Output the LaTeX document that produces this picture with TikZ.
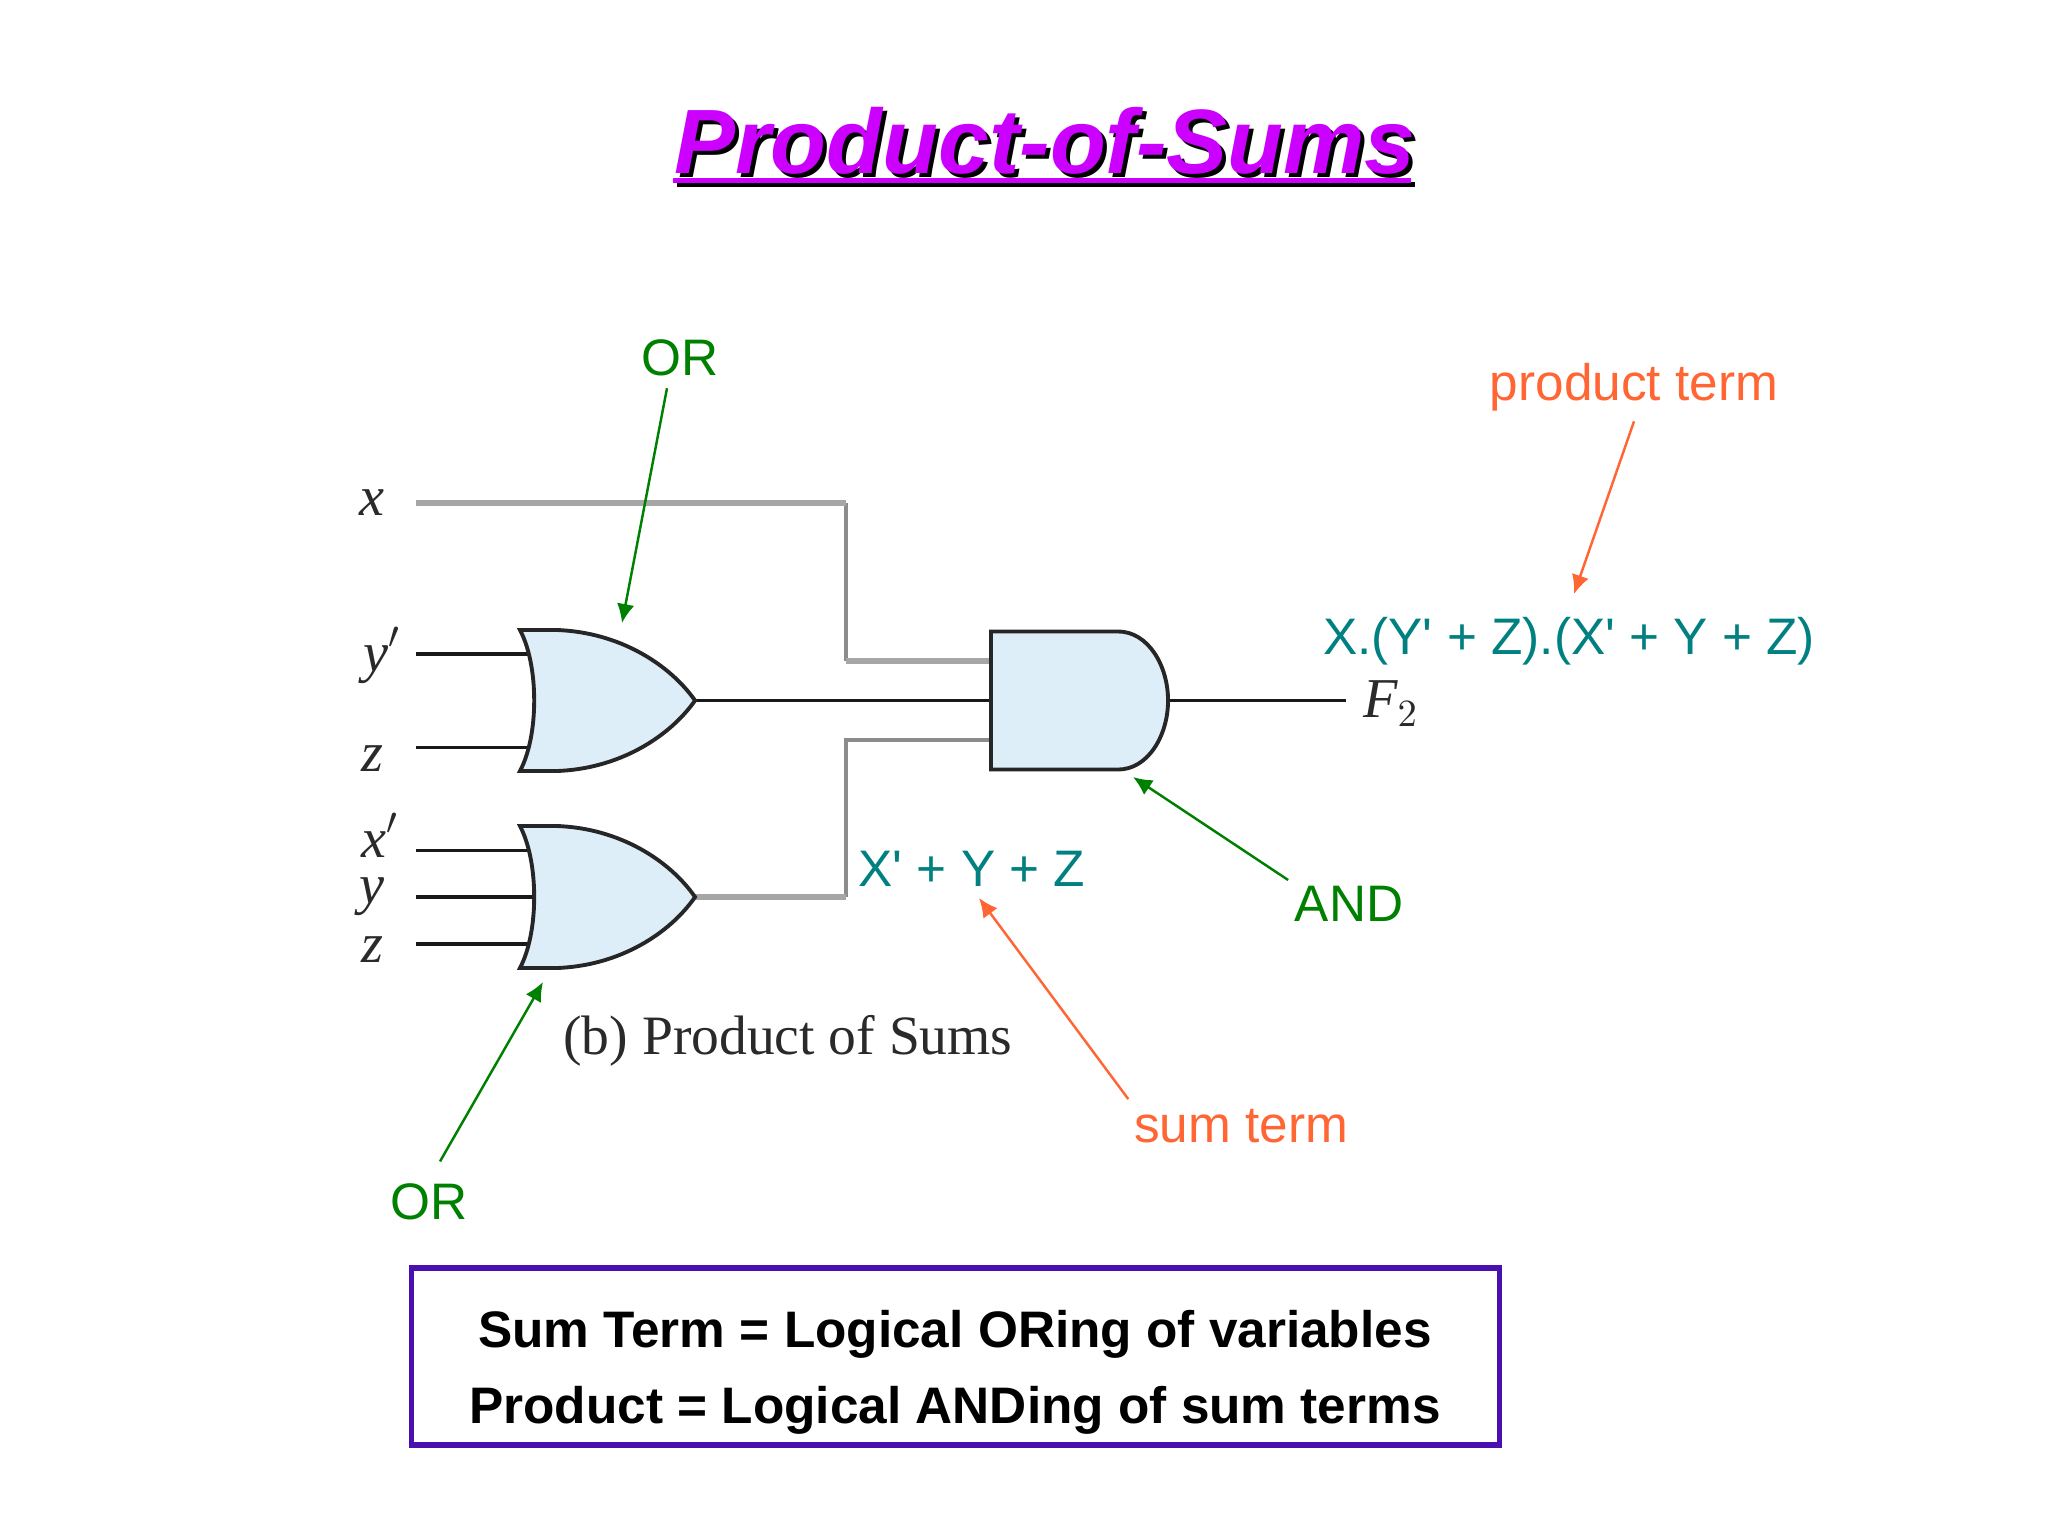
\documentclass[tikz,border=0pt]{standalone}
\usepackage{fontspec}
\setmainfont{Liberation Serif}
\setsansfont{Liberation Sans}[Ligatures=TeXOff]
\usetikzlibrary{calc,arrows.meta}
\definecolor{titlepurple}{HTML}{CC00FF}
\definecolor{gatefill}{HTML}{DDEEF9}
\definecolor{tagteal}{HTML}{008080}
\definecolor{taggreen}{HTML}{008000}
\definecolor{tagorange}{HTML}{FF6633}
\definecolor{boxviolet}{HTML}{4A0FB0}
\definecolor{inkgrey}{HTML}{2A2A2A}
\tikzset{
    gatebox/.style = {rectangle, inner sep=0pt, outer sep=0pt},
    gate/.style = {draw=black!85, line width=1.1pt, fill=gatefill, line join=miter},
    wire/.style = {draw=black!90, line width=0.9pt},
    greywire/.style = {draw=black!35, line width=1.7pt},
    thingrey/.style = {draw=black!45, line width=1.1pt},
    signal/.style = {anchor=base, inner sep=0pt, text=inkgrey, font=\itshape\fontsize{16}{18}\selectfont},
    term/.style = {anchor=base, inner sep=0pt, text=tagteal, font=\sffamily\fontsize{14.6}{16}\selectfont},
    gatetag/.style = {anchor=base, inner sep=0pt, text=taggreen, font=\sffamily\fontsize{14.6}{16}\selectfont},
    termtag/.style = {anchor=base, inner sep=0pt, text=tagorange, font=\sffamily\fontsize{14.6}{16}\selectfont},
    greenarrow/.style = {draw=taggreen, line width=0.7pt, -{Latex[length=5.4pt,width=5pt]}},
    orangearrow/.style = {draw=tagorange, line width=0.7pt, -{Latex[length=5.4pt,width=5pt]}},
    headline/.style = {anchor=base, inner sep=0pt, font=\sffamily\bfseries\itshape\fontsize{26}{30}\selectfont},
    notebox/.style = {draw=boxviolet, line width=1.5pt, minimum width=10.87cm, minimum height=1.77cm, inner sep=0pt},
    noteline/.style = {anchor=base, inner sep=0pt, font=\sffamily\bfseries\fontsize{14.6}{16}\selectfont}
}
\newcommand{\orshape}[1]{
    \draw [gate] ($(#1.north west)+(-14,0)$) -- ++(36,0)
        .. controls ($(#1.north west)+(86,2)$) and ($(#1.north east)+(-25,35)$) .. (#1.east)
        .. controls ($(#1.south east)+(-25,-35)$) and ($(#1.south west)+(86,-2)$) .. ($(#1.south west)+(22,0)$)
        -- ($(#1.south west)+(-14,0)$)
        .. controls ($(#1.west)+(5,35)$) and ($(#1.west)+(5,-35)$) .. ($(#1.north west)+(-14,0)$) -- cycle;
}
\begin{document}
\begin{tikzpicture}[x=0.01cm,y=-0.01cm]
    \useasboundingbox (0,0) rectangle (2048,1536);
    \node [headline, black] (headshadow) at (1049,177) {Product-of-Sums};
    \node [headline, titlepurple] (head) at (1045,173) {Product-of-Sums};
    \fill [black] (677,182) rectangle (1415,187);
    \fill [titlepurple] (673,178) rectangle (1411,182.5);

    \node [gatebox, minimum width=1.61cm, minimum height=1.41cm] (ortop) at (614.5,700.5) {};
    \node [gatebox, minimum width=1.61cm, minimum height=1.42cm] (orbot) at (614.5,897) {};
    \node [gatebox, minimum width=1.77cm, minimum height=1.38cm] (andgate) at (1079.5,700.5) {};

    \node [signal] (lx) at (372,515) {x};
    \node [signal] (lyp) at (382,671) {y$'$};
    \node [signal] (lz) at (372,771) {z};
    \node [signal] (lxp) at (380,857) {x$'$};
    \node [signal] (ly) at (372,903) {y};
    \node [signal] (lzb) at (372,962) {z};
    \node [signal] (lf) at (1391,717) {F$_2$};

    \coordinate (inx) at (416,503);
    \coordinate (inyp) at (416,654);
    \coordinate (inz) at (416,747.5);
    \coordinate (inxp) at (416,850.5);
    \coordinate (iny) at (416,897);
    \coordinate (inzb) at (416,944);
    \coordinate (outf) at (1346,700.5);
    \coordinate (kneetop) at (846,661);
    \coordinate (kneebot) at (846,740);

    \draw [thingrey] (inx -| kneetop) -- (kneetop);
    \draw [thingrey] (orbot.east -| kneebot) -- (kneebot) -- (kneebot -| andgate.west);
    \draw [greywire] (inx) -- (inx -| kneetop);
    \draw [greywire] (kneetop) -- (kneetop -| andgate.west);
    \draw [greywire] (orbot.east) -- (orbot.east -| kneebot);
    \draw [wire] (inyp) -- (inyp -| ortop.west);
    \draw [wire] (inz) -- (inz -| ortop.west);
    \draw [wire] (inxp) -- (inxp -| orbot.west);
    \draw [wire] (iny) -- (iny -| orbot.west);
    \draw [wire] (inzb) -- (inzb -| orbot.west);
    \draw [wire] (ortop.east) -- (andgate.west);
    \draw [wire] (andgate.east) -- (outf);

    \orshape{ortop}
    \orshape{orbot}
    \draw [gate] (andgate.north west) -- ++(127,0)
        .. controls ($(andgate.north east)+(-20,0)$) and ($(andgate.east)+(0,-35)$) .. (andgate.east)
        .. controls ($(andgate.east)+(0,35)$) and ($(andgate.south east)+(-20,0)$) .. ($(andgate.south west)+(127,0)$)
        -- (andgate.south west) -- cycle;

    \node [anchor=base, inner sep=0pt, text=inkgrey, font=\fontsize{15.8}{18}\selectfont] (caption) at (788,1054) {(b) Product of Sums};

    \node [term] (formula) at (1569,654) {X.(Y' + Z).(X' + Y + Z)};
    \node [term] (sumexpr) at (972,886) {X' + Y + Z};
    \node [gatetag] (ortoptag) at (680,375) {OR};
    \node [gatetag] (orbottag) at (429,1219) {OR};
    \node [gatetag] (andtag) at (1349,921) {AND};
    \node [termtag] (producttag) at (1634,400) {product term};
    \node [termtag] (sumtag) at (1241,1142) {sum term};

    \coordinate (ortopaim) at (622,623);
    \coordinate (orbotaim) at (543,982);
    \coordinate (andaim) at (1133,777);
    \coordinate (formulaaim) at (1574,594);
    \coordinate (sumaim) at (979,898);

    \draw [greenarrow] ([shift={(-13,12)}]ortoptag.south) -- (ortopaim);
    \draw [greenarrow] ([shift={(11,-21)}]orbottag.north) -- (orbotaim);
    \draw [greenarrow] ([shift={(-6,-5)}]andtag.north west) -- (andaim);
    \draw [orangearrow] ([shift={(0,10)}]producttag.south) -- (formulaaim);
    \draw [orangearrow] ([shift={(-5,-9)}]sumtag.north west) -- (sumaim);

    \node [notebox] (note) at (955.5,1356.5) {};
    \node [noteline] (noteone) at (955,1347) {Sum Term = Logical ORing of variables};
    \node [noteline] (notetwo) at (955,1423) {Product = Logical ANDing of sum terms};
\end{tikzpicture}
\end{document}
